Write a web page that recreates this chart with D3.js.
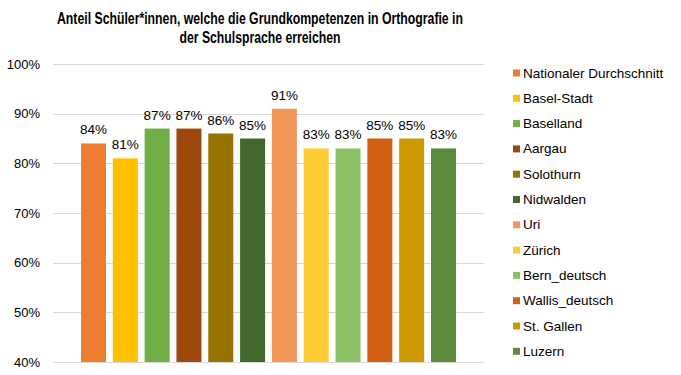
<!DOCTYPE html>
<html>
<head>
<meta charset="utf-8">
<script src="https://cdn.jsdelivr.net/npm/d3@7"></script>
<style>
  body { margin: 0; background: #fff; }
  text { font-family: "Liberation Sans", Arial, sans-serif; fill: #000; }
</style>
</head>
<body>
<div id="chart"></div>
<script>
// data
const cantons = ["Nationaler Durchschnitt", "Basel-Stadt", "Baselland", "Aargau", "Solothurn", "Nidwalden",
  "Uri", "Zürich", "Bern_deutsch", "Wallis_deutsch", "St. Gallen", "Luzern"];
const shares = [84, 81, 87, 87, 86, 85, 91, 83, 83, 85, 85, 83];
const colors = ["#ED7D31", "#FFC000", "#70AD47", "#9E480E", "#997300", "#43682B",
  "#F1975A", "#FFCD33", "#8CC168", "#D26014", "#CC9900", "#5B8C3C"];
const yTicks = [40, 50, 60, 70, 80, 90, 100];
const titleLines = ["Anteil Schüler*innen, welche die Grundkompetenzen in Orthografie in", "der Schulsprache erreichen"];
const titleWidths = [406, 161];

const width = 681, height = 375;
const plot = { left: 53, right: 484, top: 64, bottom: 362 };

const svg = d3.select("#chart").append("svg")
  .attr("width", width).attr("height", height);

// title (font in the original is narrower, so squeeze it to the same width)
svg.append("g").selectAll("text")
  .data(titleLines)
  .join("text")
  .attr("x", 260)
  .attr("y", (d, i) => 23.5 + i * 19)
  .attr("text-anchor", "middle")
  .attr("font-size", 16)
  .attr("font-weight", "bold")
  .attr("textLength", (d, i) => titleWidths[i])
  .attr("lengthAdjust", "spacingAndGlyphs")
  .text(d => d);

const y = d3.scaleLinear().domain([40, 100]).range([plot.bottom, plot.top]);
const x = d3.scaleBand().domain(cantons).range([plot.left, plot.right])
  .paddingInner(0.214).paddingOuter(0.88);

// gridlines
svg.append("g").selectAll("line")
  .data(yTicks)
  .join("line")
  .attr("x1", plot.left).attr("x2", plot.right)
  .attr("y1", d => Math.round(y(d)) + 0.5).attr("y2", d => Math.round(y(d)) + 0.5)
  .attr("stroke", "#d9d9d9").attr("stroke-width", 1);

// y axis labels
const yAxis = d3.axisLeft(y).tickValues(yTicks).tickFormat(d => d + "%").tickSize(0).tickPadding(13);
const ya = svg.append("g").attr("transform", `translate(${plot.left},0)`).call(yAxis);
ya.select(".domain").remove();
ya.selectAll("text").attr("font-size", 13).attr("fill", "#000")
  .style("font-family", "'Liberation Sans', Arial, sans-serif");

// bars
svg.append("g").selectAll("rect")
  .data(shares)
  .join("rect")
  .attr("x", (d, i) => x(cantons[i]))
  .attr("y", d => y(d))
  .attr("width", x.bandwidth())
  .attr("height", d => y(40) - y(d))
  .attr("fill", (d, i) => colors[i]);

// data labels
svg.append("g").selectAll("text")
  .data(shares)
  .join("text")
  .attr("x", (d, i) => x(cantons[i]) + x.bandwidth() / 2)
  .attr("y", d => y(d) - 9)
  .attr("text-anchor", "middle")
  .attr("font-size", 13.5)
  .text(d => d + "%");

// legend
const legend = svg.append("g").selectAll("g")
  .data(cantons)
  .join("g")
  .attr("transform", (d, i) => `translate(513,${73 + i * 25.3})`);
legend.append("rect")
  .attr("x", 0).attr("y", -3.5).attr("width", 7).attr("height", 7)
  .attr("fill", (d, i) => colors[i]);
legend.append("text")
  .attr("x", 10).attr("y", 4.5)
  .attr("font-size", 13.5)
  .text(d => d);
</script>
</body>
</html>
